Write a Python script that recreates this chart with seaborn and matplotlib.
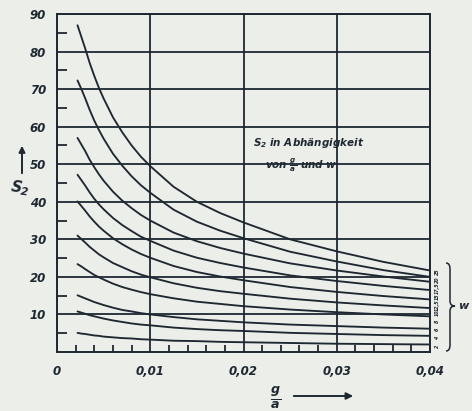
import numpy as np
import pandas as pd
import seaborn as sns
import matplotlib.pyplot as plt
from matplotlib.path import Path
from matplotlib.patches import PathPatch

# ---------------- data ----------------
g_a = [0.0022, 0.0026, 0.003, 0.0035, 0.004, 0.0045, 0.005, 0.006, 0.007, 0.008,
       0.009, 0.01, 0.0125, 0.015, 0.0175, 0.02, 0.025, 0.03, 0.035, 0.04]
w_labels = ["25", "20", "17,5", "15", "12,5", "10", "8", "6", "4", "2"]

s2_w25 = [87.0, 84.0, 81.0, 77.0, 73.5, 70.3, 67.5, 62.5, 58.5, 55.0, 52.0, 49.5, 44.0, 40.0, 37.0, 34.5, 30.0, 26.8, 24.0, 21.7]
s2_w20 = [72.3, 70.1, 67.7, 64.5, 61.6, 59.1, 56.8, 52.8, 49.6, 46.8, 44.4, 42.4, 37.9, 34.7, 32.3, 30.3, 26.7, 24.1, 21.8, 20.0]
s2_w175 = [57.0, 55.3, 53.6, 51.2, 49.2, 47.3, 45.6, 42.7, 40.3, 38.3, 36.5, 35.0, 31.8, 29.5, 27.7, 26.2, 23.6, 21.7, 20.1, 18.7]
s2_w15 = [47.2, 45.8, 44.4, 42.5, 40.8, 39.3, 38.0, 35.7, 33.8, 32.2, 30.7, 29.6, 27.0, 25.1, 23.7, 22.5, 20.4, 18.9, 17.6, 16.5]
s2_w125 = [40.1, 38.9, 37.7, 36.1, 34.7, 33.4, 32.3, 30.3, 28.7, 27.3, 26.1, 25.1, 22.9, 21.3, 20.1, 19.1, 17.3, 16.0, 14.9, 14.0]
s2_w10 = [31.0, 30.1, 29.2, 28.0, 27.0, 26.0, 25.2, 23.7, 22.6, 21.5, 20.6, 19.9, 18.3, 17.1, 16.2, 15.5, 14.2, 13.2, 12.4, 11.7]
s2_w8 = [23.4, 22.8, 22.1, 21.3, 20.5, 19.9, 19.3, 18.2, 17.3, 16.6, 15.95, 15.4, 14.3, 13.4, 12.8, 12.2, 11.3, 10.6, 10.0, 9.5]
s2_w6 = [15.1, 14.7, 14.3, 13.8, 13.3, 12.9, 12.5, 11.8, 11.2, 10.8, 10.35, 10.0, 9.3, 8.7, 8.3, 7.9, 7.3, 6.9, 6.5, 6.2]
s2_w4 = [10.8, 10.5, 10.2, 9.8, 9.5, 9.2, 8.9, 8.4, 8.0, 7.6, 7.3, 7.1, 6.5, 6.1, 5.8, 5.6, 5.1, 4.8, 4.5, 4.3]
s2_w2 = [5.1, 4.9, 4.8, 4.6, 4.4, 4.3, 4.1, 3.9, 3.7, 3.6, 3.4, 3.3, 3.0, 2.9, 2.7, 2.6, 2.4, 2.2, 2.1, 2.0]

series = [s2_w25, s2_w20, s2_w175, s2_w15, s2_w125, s2_w10, s2_w8, s2_w6, s2_w4, s2_w2]

y_ticks = [10, 20, 30, 40, 50, 60, 70, 80, 90]
x_ticks = [0, 0.01, 0.02, 0.03, 0.04]
x_tick_labels = ["0", "0,01", "0,02", "0,03", "0,04"]

rows = []
for lab, vals in zip(w_labels, series):
    for x, v in zip(g_a, vals):
        rows.append({"g/a": x, "S2": v, "w": lab})
df = pd.DataFrame(rows)

# ---------------- style ----------------
ink = "#1f2831"
paper = "#eceeea"
sns.set_style("white")
plt.rcParams["font.family"] = ["DejaVu Sans"]
plt.rcParams["mathtext.fontset"] = "custom"
plt.rcParams["mathtext.it"] = "DejaVu Sans:bold:italic"
plt.rcParams["mathtext.rm"] = "DejaVu Sans:bold:italic"
plt.rcParams["mathtext.default"] = "it"

W, H = 472, 411
fig = plt.figure(figsize=(W / 100, H / 100), dpi=100, facecolor=paper)
ax = fig.add_axes([57 / W, (H - 352) / H, (430 - 57) / W, (352 - 14) / H])
ax.set_facecolor(paper)

sns.lineplot(data=df, x="g/a", y="S2", hue="w", hue_order=w_labels,
             palette=[ink] * len(w_labels), estimator=None, legend=False,
             linewidth=1.35, ax=ax)
for ln in ax.get_lines():
    ln.set_solid_joinstyle("round")
    ln.set_solid_capstyle("round")

ax.set_xlim(0, 0.04)
ax.set_ylim(0, 90)
ax.set_xlabel("")
ax.set_ylabel("")

ax.set_yticks(y_ticks)
ax.set_xticks(x_ticks)
ax.set_xticklabels(x_tick_labels)
ax.set_yticks(np.arange(5, 90, 10), minor=True)
ax.set_xticks([t for t in np.arange(0.002, 0.04, 0.002) if abs(t / 0.01 - round(t / 0.01)) > 1e-6], minor=True)

ax.grid(True, which="major", color=ink, linewidth=1.3)
for s in ax.spines.values():
    s.set_color(ink)
    s.set_linewidth(1.4)

ax.tick_params(which="major", length=0, labelsize=8.5, labelcolor=ink)
ax.tick_params(axis="y", which="major", pad=8)
ax.tick_params(axis="x", which="major", pad=9)
ax.tick_params(axis="y", which="minor", direction="in", length=7, width=1.3, color=ink, left=True)
ax.tick_params(axis="x", which="minor", direction="in", length=5, width=1.3, color=ink, bottom=True)
for lab in ax.get_xticklabels() + ax.get_yticklabels():
    lab.set_fontstyle("italic")
    lab.set_fontweight("bold")

# right-hand w labels
ypos = np.linspace(352 - 272, 352 - 346, len(w_labels)) / 338
for lab, yp in zip(w_labels, ypos):
    ax.text(1.014, yp, lab, transform=ax.transAxes, rotation=90, fontsize=3.4,
            fontweight="bold", fontstyle="italic", color=ink, ha="left", va="center")

def fx(px):
    return px / W

def fy(py):
    return 1 - py / H

# brace
verts = [(446, 263), (450, 263), (450, 269), (450, 301), (450, 306), (455, 306),
         (450, 306), (450, 311), (450, 345), (450, 351), (446, 351)]
codes = [Path.MOVETO, Path.CURVE3, Path.CURVE3, Path.LINETO, Path.CURVE3, Path.CURVE3,
         Path.CURVE3, Path.CURVE3, Path.LINETO, Path.CURVE3, Path.CURVE3]
path = Path([(fx(a), fy(b)) for a, b in verts], codes)
fig.add_artist(PathPatch(path, transform=fig.transFigure, facecolor="none",
                         edgecolor=ink, linewidth=1.1))
fig.text(fx(463), fy(306), "w", fontsize=8, fontstyle="italic", fontweight="bold",
         color=ink, ha="center", va="center")

# y axis label with arrow
fig.text(fx(20), fy(188), "$S_2$", fontsize=11, color=ink, ha="center", va="center", rotation=-8)
ax.annotate("", xy=(fx(22), fy(143)), xytext=(fx(22), fy(176)), xycoords="figure fraction",
            textcoords="figure fraction",
            arrowprops=dict(arrowstyle="-|>", color=ink, lw=1.4, mutation_scale=9))

# x axis label with arrow
fig.text(fx(276), fy(398), r"$\frac{g}{a}$", fontsize=13, color=ink, ha="center", va="center")
ax.annotate("", xy=(fx(356), fy(396)), xytext=(fx(291), fy(396)), xycoords="figure fraction",
            textcoords="figure fraction",
            arrowprops=dict(arrowstyle="-|>", color=ink, lw=1.4, mutation_scale=10))

# annotation inside plot
fig.text(fx(253), fy(143), "$S_2$ in Abhängigkeit", fontsize=7.5, fontstyle="italic",
         fontweight="bold", color=ink, ha="left", va="center")
fig.text(fx(265), fy(165), r"von $\frac{g}{a}$ und w", fontsize=7.5, fontstyle="italic",
         fontweight="bold", color=ink, ha="left", va="center")

fig.savefig("out.png", dpi=100, facecolor=paper)
